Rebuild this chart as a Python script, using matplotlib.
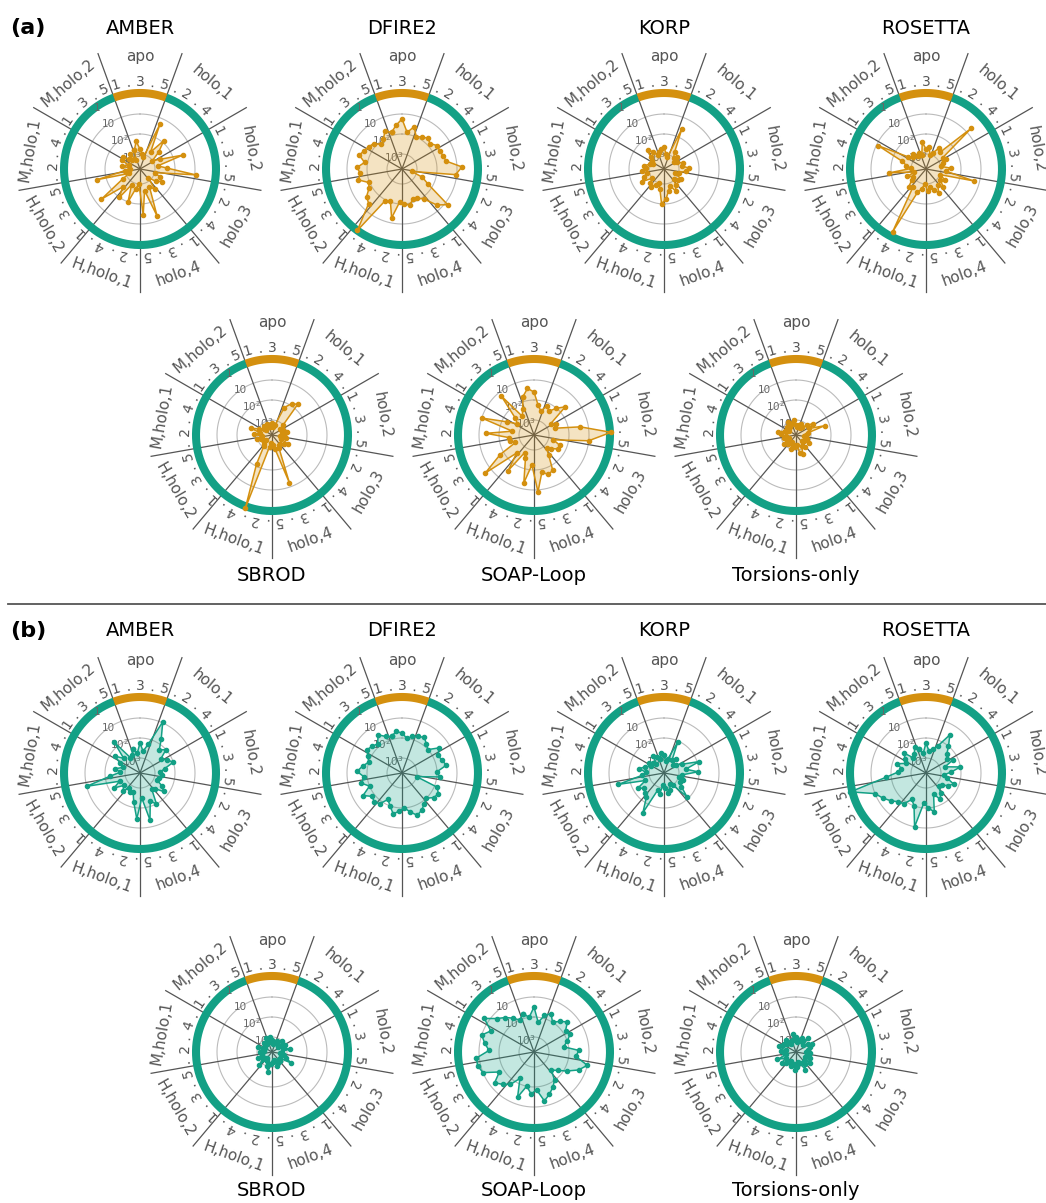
import numpy as np
import matplotlib
matplotlib.use("Agg")
import matplotlib.pyplot as plt

sectors = ["apo", "holo,1", "holo,2", "holo,3", "holo,4",
           "H,holo,1", "H,holo,2", "M,holo,1", "M,holo,2"]
n_rep = 5
rtick_vals = [1, 10, 100, 1000]
rtick_labels = ["1", "10", "10$^2$", "10$^3$"]

# log10 of the plotted quantity, 9 sectors x 5 replicas, clockwise from apo,1
# (a)
a_amber = [2.75, 2.35, 2.75, 3.0, 3.15, 1.3, 2.75, 1.9, 2.5, 3.0, 2.65, 1.5, 2.85, 2.4, 0.95,
           3.0, 2.65, 2.5, 2.75, 3.15, 2.5, 2.75, 1.25, 2.65, 1.45, 3.0, 2.75, 2.0, 2.85, 2.0,
           2.5, 1.3, 2.75, 3.15, 1.55, 3.0, 3.25, 2.85, 3.15, 2.75, 2.7, 3.0, 3.15, 2.85, 3.25]
a_dfire2 = [1.85, 1.55, 1.25, 1.9, 1.55, 2.0, 1.85, 1.75, 1.85, 1.65, 1.65, 1.6, 1.5, 0.75, 1.05,
            3.25, 2.65, 2.25, 0.85, 1.25, 1.9, 2.1, 2.15, 1.9, 2.0, 2.1, 1.25, 2.05, 1.95, -0.05,
            1.35, 1.5, 1.85, 1.95, 1.5, 1.65, 1.5, 1.85, 1.5, 1.65, 1.75, 1.85, 2.15, 2.0, 1.65]
a_korp = [2.85, 2.75, 2.65, 3.0, 3.15, 1.55, 2.75, 3.0, 2.85, 3.15, 3.0, 2.75, 2.85, 2.5, 2.65,
          3.0, 3.15, 2.75, 2.85, 3.05, 2.75, 2.5, 2.85, 2.65, 2.25, 2.0, 2.75, 3.0, 2.85, 2.65,
          2.75, 3.0, 2.5, 2.65, 2.85, 2.65, 2.85, 2.75, 3.0, 3.15, 3.0, 2.85, 2.5, 2.75, 3.0]
a_rosetta = [3.0, 2.4, 2.75, 2.65, 3.0, 2.85, 2.5, 2.65, 0.7, 2.75, 2.65, 2.85, 3.0, 2.5, 2.75,
             1.3, 3.0, 2.65, 2.85, 2.5, 2.75, 2.4, 2.65, 2.85, 2.65, 3.0, 2.75, 2.5, 0.2, 2.65,
             2.5, 2.85, 3.0, 2.75, 3.15, 1.9, 3.0, 2.75, 2.5, 1.1, 2.65, 2.85, 2.75, 3.0, 2.85]
a_sbrod = [3.35, 3.25, 3.15, 3.35, 3.25, 2.25, 1.9, 1.75, 3.0, 3.25, 3.15, 3.25, 3.0, 3.15, 3.35,
           3.05, 3.25, 2.85, 3.0, 3.15, 3.15, 3.0, 1.2, 3.05, 3.25, 3.35, 3.15, -0.15, 2.1, 3.05,
           3.15, 3.35, 3.25, 3.15, 3.0, 3.25, 2.85, 3.15, 2.65, 3.05, 3.25, 3.35, 3.15, 3.25, 3.15]
a_soap = [1.75, 1.4, 1.6, 2.25, 2.5, 2.15, 2.35, 2.0, 1.65, 2.75, 2.5, 2.65, 1.4, -0.1, 1.0,
          2.75, 2.35, 2.35, 2.65, 2.85, 2.5, 1.75, 1.65, 1.85, 0.9, 2.25, 1.3, 2.5, 2.75, 1.55,
          2.5, 0.65, 1.8, 2.75, 2.5, 2.5, 1.35, 2.65, 1.0, 2.25, 2.75, 2.5, 1.2, 2.65, 2.35]
a_tors = [3.15, 3.0, 3.25, 3.35, 3.25, 3.15, 3.35, 3.25, 3.0, 2.75, 3.0, 2.25, 3.15, 3.25, 3.35,
          3.25, 3.15, 3.0, 3.25, 3.35, 3.0, 3.15, 2.75, 2.85, 3.25, 3.15, 3.25, 3.0, 3.35, 3.25,
          3.15, 3.0, 3.25, 3.35, 3.15, 3.25, 3.0, 2.85, 3.15, 3.25, 3.35, 3.15, 3.25, 3.0, 3.15]
# (b)
b_amber = [2.5, 2.75, 2.25, 2.65, 2.25, 0.95, 1.75, 2.25, 2.0, 2.5, 2.25, 2.0, 2.5, 2.75, 2.65,
           2.75, 2.85, 2.5, 2.25, 2.65, 2.75, 2.0, 2.25, 1.35, 2.5, 1.45, 2.25, 2.75, 2.65, 2.85,
           2.5, 2.75, 2.25, 2.65, 1.0, 2.25, 2.75, 2.5, 2.85, 2.65, 2.25, 2.65, 1.75, 2.85, 2.75]
b_dfire2 = [1.85, 1.65, 1.75, 2.0, 1.85, 1.75, 1.65, 1.85, 2.0, 1.5, 1.75, 1.65, 1.5, 2.0, 1.85,
            3.0, 1.85, 1.65, 1.75, 2.0, 1.85, 1.65, 1.5, 1.75, 2.0, 1.85, 1.65, 2.0, 2.25, 1.85,
            1.75, 1.85, 1.5, 2.0, 1.65, 1.85, 1.5, 1.75, 2.0, 1.85, 1.65, 1.75, 1.85, 1.5, 1.75]
b_korp = [3.0, 2.75, 2.85, 3.15, 3.0, 2.05, 3.0, 2.85, 3.15, 3.0, 2.75, 1.9, 2.65, 2.05, 2.85,
          3.0, 2.75, 2.85, 2.65, 2.1, 3.0, 3.15, 2.85, 2.75, 3.0, 3.15, 2.7, 2.85, 1.5, 2.25,
          2.35, 2.5, 2.25, 2.75, 1.4, 2.65, 2.85, 2.5, 2.75, 3.0, 2.85, 3.0, 3.15, 2.75, 2.85]
b_rosetta = [2.5, 2.75, 2.25, 2.65, 2.5, 2.25, 1.5, 2.0, 2.35, 2.5, 2.25, 2.75, 2.0, 2.5, 2.85,
             2.65, 2.25, 2.5, 2.75, 2.85, 2.5, 2.25, 2.65, 1.75, 2.0, 2.25, 1.0, 2.0, 2.25, 1.85,
             1.75, 1.5, 1.25, 1.0, -0.15, 1.75, 2.35, 2.5, 2.25, 2.65, 2.5, 2.25, 2.75, 2.65, 2.35]
b_sbrod = [3.25, 3.0, 3.15, 3.35, 3.25, 3.15, 3.25, 3.0, 3.35, 3.15, 3.0, 3.15, 2.85, 3.25, 3.35,
           3.15, 3.0, 2.65, 3.25, 3.15, 3.25, 3.15, 3.0, 3.35, 3.25, 3.15, 2.75, 3.0, 3.25, 3.35,
           2.85, 3.15, 3.25, 3.0, 3.25, 3.25, 3.15, 3.35, 3.0, 3.25, 3.35, 3.25, 3.15, 3.25, 3.0]
b_soap = [1.75, 2.0, 1.5, 2.25, 1.85, 1.65, 2.0, 1.75, 1.5, 1.85, 1.75, 2.0, 2.25, 1.5, 1.65,
          1.0, 1.35, 1.85, 2.25, 2.5, 2.0, 1.75, 1.5, 1.25, 1.85, 1.65, 2.0, 1.35, 2.25, 1.75,
          1.5, 1.25, 1.75, 1.0, 0.85, 0.85, 1.5, 1.25, 1.0, 1.35, 0.75, 1.25, 1.5, 1.75, 2.0]
b_tors = [3.15, 2.85, 3.0, 3.25, 3.15, 3.0, 3.15, 2.85, 3.25, 3.05, 2.85, 3.0, 3.15, 3.25, 3.05,
          3.15, 3.0, 3.25, 2.85, 3.15, 3.0, 2.75, 3.15, 3.25, 3.0, 2.85, 3.15, 3.0, 3.25, 3.15,
          3.0, 2.85, 3.15, 2.75, 3.25, 3.15, 3.0, 3.25, 2.85, 3.0, 3.05, 3.15, 2.95, 3.25, 3.15]

methods_top = ["AMBER", "DFIRE2", "KORP", "ROSETTA"]
methods_bot = ["SBROD", "SOAP-Loop", "Torsions-only"]
data_a = [a_amber, a_dfire2, a_korp, a_rosetta, a_sbrod, a_soap, a_tors]
data_b = [b_amber, b_dfire2, b_korp, b_rosetta, b_sbrod, b_soap, b_tors]

ORANGE = "#d4900f"
TEAL = "#13a085"
GREY = "#555555"

W, H = 1046, 1203
R = 125  # axes radius in pixels
fig = plt.figure(figsize=(W / 100, H / 100), dpi=100)

R_CENTER = 10 ** 3.75
R_EDGE = 10 ** -2.5
R_RING = 10 ** -0.05
R_TICK = 10 ** -0.6
R_CAT = 10 ** -1.85


def draw_panel(cx, cy, logs, color):
    ax = fig.add_axes([(cx - R) / W, (H - cy - R) / H, 2 * R / W, 2 * R / H],
                      projection="polar")
    ax.set_theta_zero_location("N")
    ax.set_theta_direction(-1)
    ax.set_rscale("log")
    ax.set_rlim(R_CENTER, R_EDGE)
    ax.grid(False)
    ax.set_xticks([])
    ax.set_yticks([])
    ax.spines["polar"].set_visible(False)
    ax.patch.set_alpha(0)

    full = np.linspace(0, 2 * np.pi, 300)
    for v in rtick_vals[1:]:
        ax.plot(full, np.full_like(full, v), color="#bbbbbb", lw=0.8, zorder=1)

    for k in range(len(sectors)):
        th = np.deg2rad(-20 + 40 * k)
        ax.plot([th, th], [R_CENTER, R_EDGE * 1.3], color=GREY, lw=0.9, zorder=1.5)

    # outer ring: apo in orange, holo states in teal
    arc = np.deg2rad(np.linspace(20, 340, 200))
    ax.plot(arc, np.full_like(arc, R_RING), color=TEAL, lw=5.8, solid_capstyle="butt", zorder=2)
    arc = np.deg2rad(np.linspace(-20, 20, 50))
    ax.plot(arc, np.full_like(arc, R_RING), color=ORANGE, lw=5.8, solid_capstyle="butt", zorder=2)

    for v, lab in zip(rtick_vals, rtick_labels):
        ax.text(np.deg2rad(-35), v, lab, ha="center", va="center", fontsize=7.5,
                color="#666666", zorder=2.5 if v == 1 else 1.8)

    # replica tick labels
    n = len(sectors) * n_rep
    for i in range(n):
        thd = -16 + 8 * i
        lab = str(i % n_rep + 1) if i % 2 == 0 else "."
        ax.text(np.deg2rad(thd), R_TICK, lab, rotation=-thd, rotation_mode="anchor",
                ha="center", va="center", fontsize=10, color=GREY)

    # sector names
    for k, name in enumerate(sectors):
        thd = 40 * k
        rot = 180 - thd if 90 < thd < 270 else -thd
        ax.text(np.deg2rad(thd), R_CAT, name, rotation=rot, rotation_mode="anchor",
                ha="center", va="center", fontsize=11, color=GREY)

    theta = np.deg2rad(-16 + 8 * np.arange(n))
    vals = 10 ** np.asarray(logs, dtype=float)
    tc = np.append(theta, theta[0])
    vc = np.append(vals, vals[0])
    ax.fill(tc, vc, color=color, alpha=0.25, lw=0, zorder=3)
    ax.plot(tc, vc, color=color, lw=1.1, marker="o", ms=3, zorder=4)
    return ax


row_top_x = [140, 402, 664, 926]
row_bot_x = [272, 534, 796]

for data, color, y1, y2, t1, t2, tag in [
        (data_a, ORANGE, 169, 435, 28, 576, "(a)"),
        (data_b, TEAL, 773, 1052, 631, 1191, "(b)")]:
    for j, name in enumerate(methods_top):
        draw_panel(row_top_x[j], y1, data[j], color)
        fig.text(row_top_x[j] / W, 1 - t1 / H, name, ha="center", va="center", fontsize=14)
    for j, name in enumerate(methods_bot):
        draw_panel(row_bot_x[j], y2, data[4 + j], color)
        fig.text(row_bot_x[j] / W, 1 - t2 / H, name, ha="center", va="center", fontsize=14)
    fig.text(10 / W, 1 - t1 / H, tag, ha="left", va="center", fontsize=16, fontweight="bold")

fig.add_artist(plt.Line2D([8 / W, 1.0], [1 - 604 / H, 1 - 604 / H], color=GREY, lw=1.3))

fig.savefig("out.png", dpi=100)
